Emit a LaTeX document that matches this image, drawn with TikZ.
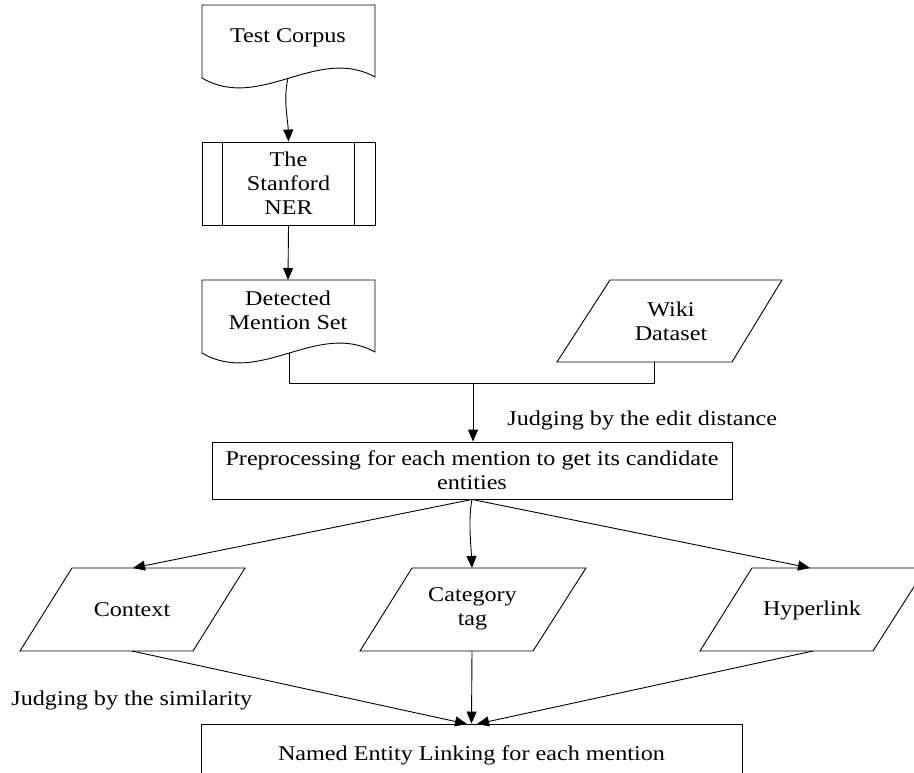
\documentclass[tikz,border=0pt]{standalone}
\usepackage{fontspec}
\setmainfont{Liberation Serif}[FakeStretch=1.15]
\usetikzlibrary{arrows.meta}
\begin{document}
\begin{tikzpicture}[x=1pt,y=-1pt,line width=0.9pt,
  lbl/.style={inner sep=0pt,align=center,font=\fontsize{21}{24}\selectfont},
  arr/.style={-{Triangle[length=12pt,width=10pt]}},
  boxnode/.style={draw,rectangle,inner sep=0pt,align=center,font=\fontsize{21}{24}\selectfont}]
\clip (0,0) rectangle (914,773);
\fill[white] (0,0) rectangle (914,773);
% Test Corpus (document)
\draw (202,5) -- (375,5) -- (375,77) .. controls (317,45) and (260,112) .. (202,78) -- cycle;
\node[lbl] (tc) at (288,38) {Test Corpus};
\coordinate (tcb) at (288,78);
% The Stanford NER (predefined process)
\node[boxnode,minimum width=173pt,minimum height=83pt] (ner) at (288.5,183.5) {The\\Stanford\\NER};
\draw ([xshift=21pt]ner.north west) -- ([xshift=21pt]ner.south west);
\draw ([xshift=-21pt]ner.north east) -- ([xshift=-21pt]ner.south east);
% Detected Mention Set (document)
\draw (202,280) -- (375,280) -- (375,352) .. controls (317,320) and (260,387) .. (202,353) -- cycle;
\node[lbl] (dm) at (288,310) {Detected\\Mention Set};
\coordinate (dmb) at (289,353);
% Wiki Dataset (data)
\draw (610,280) -- (782,280) -- (732,362) -- (557,362) -- cycle;
\node[lbl] (wk) at (671,321) {Wiki\\Dataset};
\coordinate (wkb) at (654,362);
% junction
\coordinate (j1) at (289,383);
\coordinate (j2) at (654,383);
\coordinate (jm) at (473,383);
% Preprocessing
\node[boxnode,minimum width=520pt,minimum height=57pt] (pp) at (472,470.5) {Preprocessing for each mention to get its candidate\\entities};
% Context / Category / Hyperlink (data)
\draw (72,568) -- (245,568) -- (193,651) -- (20,651) -- cycle;
\node[lbl] (ctx) at (132,610) {Context};
\coordinate (ctxt) at (133,568);
\coordinate (ctxb) at (132,651);
\draw (412,568) -- (586,568) -- (533,651) -- (360,651) -- cycle;
\node[lbl] (cat) at (472.5,609) {Category\\tag};
\coordinate (catt) at (472,568);
\coordinate (catb) at (472,651);
\draw (752,568) -- (926,568) -- (873,651) -- (700,651) -- cycle;
\node[lbl] (hyp) at (812,610) {Hyperlink};
\coordinate (hypt) at (810,568);
\coordinate (hypb) at (813,651);
% Named Entity Linking
\node[boxnode,minimum width=541pt,minimum height=62pt] (ne) at (471.5,755) {Named Entity Linking for each mention};
\coordinate (nel) at (467,724);
\coordinate (ner2) at (477,724);
% labels
\node[lbl,anchor=west] (l1) at (507,420) {Judging by the edit distance};
\node[lbl,anchor=west] (l2) at (11,700) {Judging by the similarity};
% connectors
\draw[arr] (tcb) .. controls (283,100) and (288,120) .. (ner.north);
\draw[arr] (ner.south) -- (288,280);
\draw (dmb) -- (j1) -- (j2) -- (wkb);
\draw[arr] (jm) -- (jm |- pp.north);
\draw[arr] (pp.south) -- (ctxt);
\draw[arr] (pp.south) .. controls (468,520) and (471,545) .. (catt);
\draw[arr] (pp.south) -- (hypt);
\draw[arr] (ctxb) -- (nel);
\draw[arr] (catb) -- (ne.north);
\draw[arr] (hypb) -- (ner2);
\end{tikzpicture}
\end{document}
